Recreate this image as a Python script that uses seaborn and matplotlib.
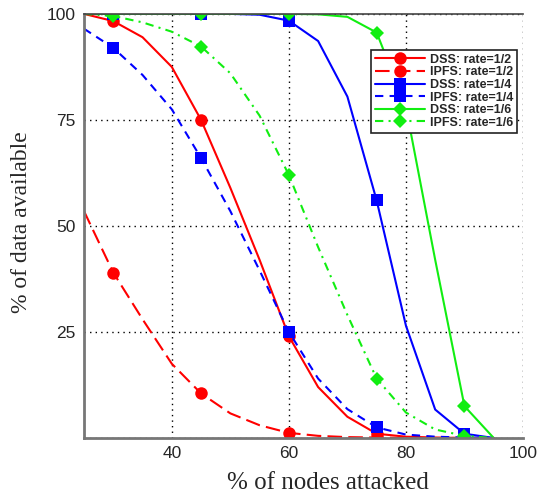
import numpy as np
import pandas as pd
import matplotlib
matplotlib.use("Agg")
import matplotlib.pyplot as plt
import seaborn as sns
from matplotlib import font_manager

# --- data ---
nodes_attacked = [25, 30, 35, 40, 45, 50, 55, 60, 65, 70, 75, 80, 85, 90, 95]

dss_half = [100, 98.3, 94.5, 87.5, 75, 59, 42, 24, 12, 5, 1, 0.3, 0.1, 0, 0]
ipfs_half = [53.5, 39, 28, 17.5, 10.5, 5.8, 3, 1.2, 0.5, 0.2, 0.1, 0, 0, 0, 0]
dss_quarter = [100, 100, 100, 100, 100, 100, 99.8, 98.4, 93.6, 80.5, 56, 26.5, 6.7, 1, 0]
ipfs_quarter = [96.5, 92, 85.6, 77.5, 66, 53.5, 39.5, 25, 14, 6.8, 2.5, 0.8, 0.3, 0.1, 0]
dss_sixth = [100, 100, 100, 100, 100, 100, 100, 100, 99.9, 99.3, 95.6, 78, 42, 7.5, 0]
ipfs_sixth = [100, 99.5, 98, 95.8, 92.3, 86, 76, 62, 45, 29, 14, 6, 2, 0.5, 0]

series_labels = ["DSS: rate=1/2", "IPFS: rate=1/2", "DSS: rate=1/4",
                 "IPFS: rate=1/4", "DSS: rate=1/6", "IPFS: rate=1/6"]

xticks = [40, 60, 80, 100]
yticks = [25, 50, 75, 100]

sns.set_style("white")

available = {f.name for f in font_manager.fontManager.ttflist}
legend_family = "Liberation Sans Narrow" if "Liberation Sans Narrow" in available else "Liberation Sans"
legend_size = 10.8 if legend_family == "Liberation Sans Narrow" else 9

fig = plt.figure(figsize=(5.5, 4.96), dpi=100)
ax = fig.add_axes([0.1527, 0.117, 0.7982, 0.855])

series = [
    (dss_half, "#ff0000", "o", "-", 9),
    (ipfs_half, "#ff0000", "o", (0, (7, 3)), 9),
    (dss_quarter, "#0000ff", "s", "-", 8.5),
    (ipfs_quarter, "#0000ff", "s", (0, (4, 3)), 8.5),
    (dss_sixth, "#11ee11", "D", "-", 7),
    (ipfs_sixth, "#11ee11", "D", (0, (4, 2.5, 1, 2.5)), 7),
]

for (vals, col, mk, ls, ms), lab in zip(series, series_labels):
    df = pd.DataFrame({"x": nodes_attacked, "y": vals})
    sns.lineplot(data=df, x="x", y="y", ax=ax, color=col, linestyle=ls, lw=1.5,
                 marker=mk, markersize=ms, markeredgewidth=0, markevery=slice(1, None, 3),
                 label=lab)

ax.set_xlim(25, 100)
ax.set_ylim(0, 100)
ax.set_xticks(xticks)
ax.set_yticks(yticks)

# dotted grid, also along y=0 and on the right edge
for v in xticks:
    ax.axvline(v, color="black", lw=1, ls=(0, (1, 3)), zorder=0)
for v in [0] + yticks:
    ax.axhline(v, color="black", lw=1, ls=(0, (1, 3)), zorder=0)

for side in ["left", "bottom"]:
    ax.spines[side].set_color("#777777")
    ax.spines[side].set_linewidth(2)
ax.spines["top"].set_color("#444444")
ax.spines["top"].set_linewidth(1.2)
ax.spines["right"].set_visible(False)

ax.tick_params(axis="both", direction="out", length=4, width=1, color="#555555",
               labelsize=12.5, pad=2)
for t in ax.get_xticklabels() + ax.get_yticklabels():
    t.set_family("Liberation Sans")

ax.set_xlabel("% of nodes attacked", family="Liberation Serif", fontsize=18)
ax.set_ylabel("% of data available", family="Liberation Serif", fontsize=17)
ax.xaxis.set_label_coords(0.556, -0.08)
ax.yaxis.set_label_coords(-0.118, 0.51)

leg = ax.legend(loc="upper right", bbox_to_anchor=(0.987, 0.915), borderaxespad=0,
                fancybox=False, framealpha=1, edgecolor="#222222", handlelength=4.0,
                prop={"family": legend_family, "weight": "bold", "size": legend_size},
                labelspacing=0.05, handletextpad=0.4, borderpad=0.3)
leg.get_frame().set_linewidth(1.2)

fig.savefig("out.png", dpi=100)
